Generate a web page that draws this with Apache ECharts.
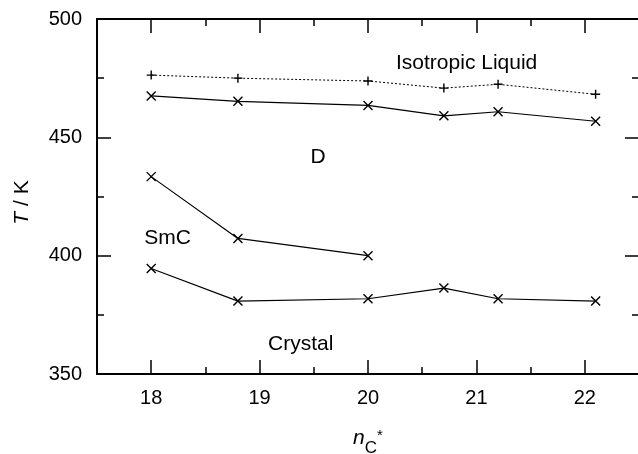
<!DOCTYPE html>
<html>
<head>
<meta charset="utf-8">
<script src="https://cdn.jsdelivr.net/npm/echarts@6/dist/echarts.min.js"></script>
<style>
  html, body { margin: 0; padding: 0; background: #fff; }
  #chart { width: 638px; height: 454px; }
</style>
</head>
<body>
<div id="chart"></div>
<script>
// carbon number n_C*
const nC = [18, 18.8, 20, 20.7, 21.2, 22.1]
const nCSmC = [18, 18.8, 20]
// transition temperatures / K
const isoLiquid = [476.3, 475.0, 473.8, 470.8, 472.4, 468.2]
const clearingD = [467.5, 465.2, 463.5, 459.1, 460.8, 456.8]
const smcToD = [433.4, 407.3, 400.0]
const crystal = [394.6, 380.8, 381.8, 386.3, 381.8, 380.8]
// phase labels [text, nC, T]
const phaseLabels = [
  ['Isotropic Liquid', 20.91, 481.5],
  ['D', 19.54, 441.5],
  ['SmC', 18.15, 407.5],
  ['Crystal', 19.38, 362.5]
]

const FONT = '"Liberation Sans", Arial, Helvetica, sans-serif'
const plus = 'path://M5,0L5,10M0,5L10,5'
const cross = 'path://M0,0L10,10M10,0L0,10'

function pairs(xs, ys) {
  return xs.map((x, i) => [x, ys[i]])
}

function lineSeries(xs, ys, symbol, dotted) {
  return {
    type: 'line',
    data: pairs(xs, ys),
    symbol: symbol,
    symbolSize: 9,
    showAllSymbol: true,
    itemStyle: { color: 'none', borderColor: '#000', borderWidth: 1.4 },
    lineStyle: { color: '#000', width: dotted ? 1 : 1.2, type: dotted ? [2, 2] : 'solid' },
    emphasis: { disabled: true },
    animation: false,
    z: 3
  }
}

let chart = echarts.init(document.getElementById('chart'))

const axisLine = { show: true, lineStyle: { color: '#000', width: 2 } }
const tickIn = { show: true, inside: true, length: 14, lineStyle: { color: '#000', width: 1.5 } }
const minorIn = { show: true, splitNumber: 2, length: 7, lineStyle: { color: '#000', width: 1.5 } }

chart.setOption({
  animation: false,
  grid: { left: 97, right: -1, top: 19, bottom: 80, containLabel: false, outerBoundsMode: 'none' },
  xAxis: [
    {
      type: 'value', min: 17.5, max: 22.5, position: 'bottom',
      axisLine: axisLine, axisTick: tickIn, minorTick: minorIn,
      splitLine: { show: false }, minorSplitLine: { show: false },
      axisLabel: {
        color: '#000', fontFamily: FONT, fontSize: 20, margin: 14,
        formatter: v => (Number.isInteger(v) ? String(v) : '')
      },
      name: '{i|n}{sub|C}{sup|*}',
      nameLocation: 'middle', nameGap: 46,
      nameTextStyle: {
        color: '#000', fontFamily: FONT,
        rich: {
          i: { fontStyle: 'italic', fontSize: 21, fontFamily: FONT, color: '#000' },
          sub: { fontSize: 17, fontFamily: FONT, color: '#000', padding: [20, 0, 0, 0] },
          sup: { fontSize: 15, fontFamily: FONT, color: '#000', padding: [0, 0, 6, 0] }
        }
      }
    },
    {
      type: 'value', min: 17.5, max: 22.5, position: 'top',
      axisLine: axisLine, axisTick: tickIn, minorTick: minorIn,
      splitLine: { show: false }, axisLabel: { show: false }
    }
  ],
  yAxis: [
    {
      type: 'value', min: 350, max: 500, interval: 50, position: 'left',
      axisLine: axisLine, axisTick: tickIn, minorTick: minorIn,
      splitLine: { show: false }, minorSplitLine: { show: false },
      axisLabel: { color: '#000', fontFamily: FONT, fontSize: 20, margin: 15 },
      name: '{i|T} / K',
      nameLocation: 'middle', nameGap: 64, nameRotate: 90,
      nameTextStyle: {
        color: '#000', fontFamily: FONT, fontSize: 21, padding: [0, 12, 0, 0],
        rich: {
          i: { fontStyle: 'italic', fontSize: 21, fontFamily: FONT, color: '#000' }
        }
      }
    },
    {
      type: 'value', min: 350, max: 500, interval: 50, position: 'right',
      axisLine: axisLine, axisTick: tickIn, minorTick: minorIn,
      splitLine: { show: false }, axisLabel: { show: false }
    }
  ],
  series: [
    lineSeries(nC, isoLiquid, plus, true),
    lineSeries(nC, clearingD, cross, false),
    lineSeries(nCSmC, smcToD, cross, false),
    lineSeries(nC, crystal, cross, false),
    {
      type: 'scatter',
      data: phaseLabels.map(p => ({ name: p[0], value: [p[1], p[2]] })),
      symbolSize: 0,
      silent: true,
      itemStyle: { opacity: 1 },
      label: {
        show: true, position: 'inside', formatter: '{b}',
        color: '#000', fontFamily: FONT, fontSize: 21
      }
    }
  ]
})
</script>
</body>
</html>
